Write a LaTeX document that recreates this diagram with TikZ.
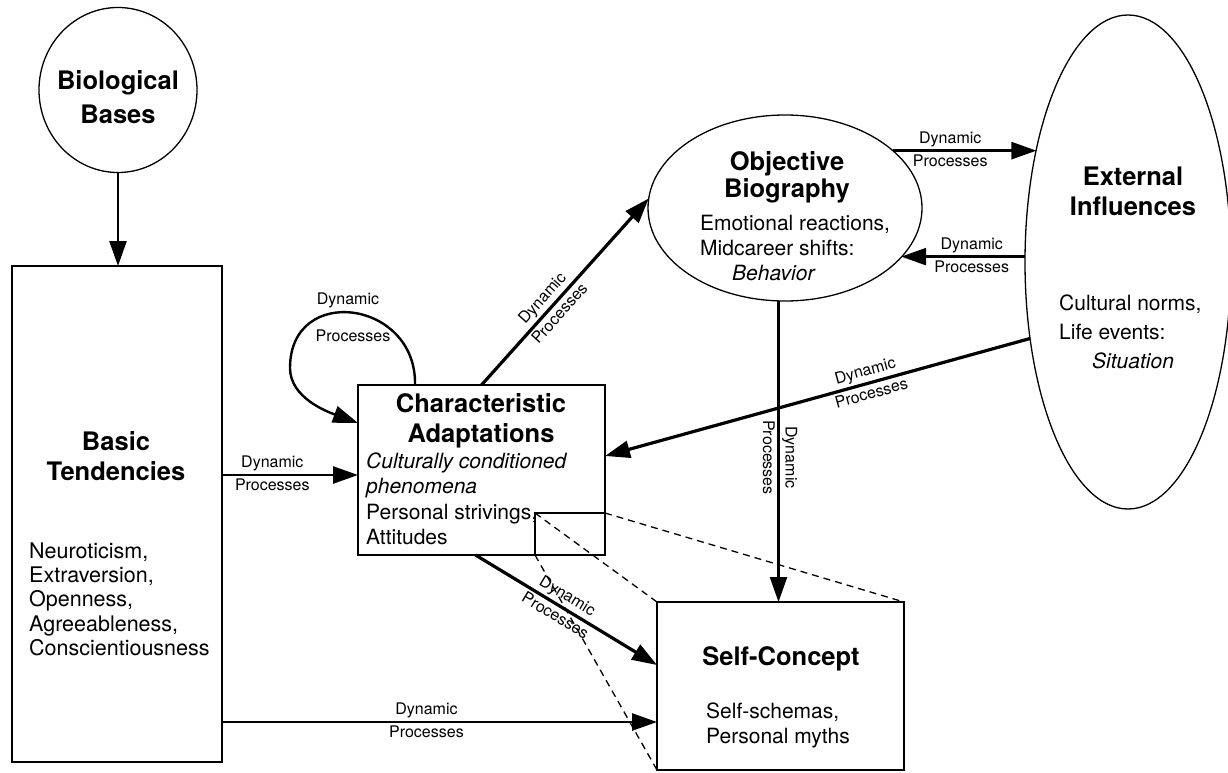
\documentclass[tikz,border=0pt]{standalone}
\usepackage{fontspec}
\setmainfont{TeX Gyre Heros}
\usetikzlibrary{arrows.meta,shapes.geometric,calc}
\newcommand\blk[2]{\begin{tabular}[t]{@{}#1@{}}#2\end{tabular}}
\begin{document}
\begin{tikzpicture}[x=1pt,y=-1pt,
  shapebox/.style={draw, line width=1.6pt, rectangle, inner sep=0pt, outer sep=0pt},
  oval/.style={draw, line width=1.3pt, ellipse, inner sep=0pt, outer sep=0pt},
  ttl/.style={font=\fontsize{25.5}{30}\selectfont\bfseries, inner sep=0pt, anchor=base},
  bdy/.style={font=\fontsize{21}{25}\selectfont, inner sep=0pt, anchor=base west},
  lbl/.style={font=\fontsize{16}{18}\selectfont, inner sep=2.5pt},
  conn/.style={line width=2.6pt, -{Triangle[length=25pt,width=17pt]}},
  thickconn/.style={conn, line width=3.2pt},
  zoomline/.style={line width=1.3pt, dash pattern=on 7pt off 5pt}
]
\fill[white] (0,0) rectangle (1228,773);
\useasboundingbox (0,0) rectangle (1228,773);

% shapes
\node[oval, minimum width=158pt, minimum height=165pt] (bio) at (118,90) {};
\node[shapebox, minimum width=210pt, minimum height=496pt] (basic) at (117,514) {};
\node[shapebox, minimum width=247pt, minimum height=170pt] (char) at (481.5,470) {};
\node[oval, minimum width=274pt, minimum height=186pt] (obj) at (785,208) {};
\node[oval, minimum width=206pt, minimum height=494pt] (ext) at (1128,262) {};
\node[shapebox, minimum width=247pt, minimum height=168pt] (self) at (780.5,686) {};

% texts
\node[ttl, font=\fontsize{25.5}{34}\selectfont\bfseries] (biot) at (118,90) {\blk{c}{Biological\\Bases}};
\node[ttl] (basict) at (116,450) {\blk{c}{Basic\\Tendencies}};
\node[bdy, font=\fontsize{21.5}{24.4}\selectfont] (basicb) at (29,558) {\blk{l}{Neuroticism,\\Extraversion,\\Openness,\\Agreeableness,\\Conscientiousness}};
\node[ttl] (chart) at (481,412) {\blk{c}{Characteristic\\Adaptations}};
\node[bdy, font=\fontsize{21}{25.5}\selectfont] (charb) at (366,468) {\blk{l}{\textit{Culturally conditioned}\\\textit{phenomena}\\Personal strivings,\\Attitudes}};
\node[ttl, font=\fontsize{25.5}{27}\selectfont\bfseries] (objt) at (787,170) {\blk{c}{Objective\\Biography}};
\node[bdy] (objb) at (700,230) {\blk{l}{Emotional reactions,\\Midcareer shifts:\\\hspace*{32pt}\textit{Behavior}}};
\node[ttl] (extt) at (1133,185) {\blk{c}{External\\Influences}};
\node[bdy, font=\fontsize{21}{29}\selectfont] (extb) at (1059,310) {\blk{l}{Cultural norms,\\Life events:\\\hspace*{33pt}\textit{Situation}}};
\node[ttl] (selft) at (781,665) {Self-Concept};
\node[bdy] (selfb) at (706,718) {\blk{l}{Self-schemas,\\Personal myths}};

% zoom rectangle and dashed lines
\coordinate (zTL) at ($(char.south east)+(-70,-42)$);
\draw[line width=1.3pt] (zTL) rectangle (char.south east);
\draw[zoomline] (zTL) -- (self.north west);
\draw[zoomline] (zTL -| char.east) -- (self.north east);
\draw[zoomline] (zTL |- char.south) -- (self.south west);

% connectors
\draw[conn] (bio.south) -- (bio.south |- basic.north);

\coordinate (c1) at ($(char.west)+(0,5)$);
\draw[conn] (c1 -| basic.east) -- node[lbl,above,pos=0.37] (l1a) {Dynamic} node[lbl,below,pos=0.37] (l1b) {Processes} (c1);

\coordinate (b2) at ($(basic.south east)+(0,-40)$);
\draw[conn] (b2) -- node[lbl,above,pos=0.47] (l2a) {Dynamic} node[lbl,below,pos=0.47] (l2b) {Processes} (b2 -| self.west);

\draw[thickconn] (char.north) -- node[lbl,sloped,above,pos=0.42] (l3a) {Dynamic} node[lbl,sloped,below,pos=0.42] (l3b) {Processes} (obj.176);

\draw[thickconn] ($(char.south)+(-6,0)$) -- node[lbl,sloped,above,pos=0.47] (l4a) {Dynamic} node[lbl,sloped,below,pos=0.47] (l4b) {Processes} ($(self.west)+(0,-21)$);

\draw[conn] (obj.28) -- node[lbl,above,pos=0.4] (l5a) {Dynamic} node[lbl,below,pos=0.4] (l5b) {Processes} (obj.28 -| ext.129);

\draw[conn] (ext.177) -- node[lbl,above,pos=0.43] (l6a) {Dynamic} node[lbl,below,pos=0.43] (l6b) {Processes} (ext.177 -| obj.337);

\draw[thickconn] (ext.218) -- node[lbl,sloped,above,pos=0.38] (l7a) {Dynamic} node[lbl,sloped,below,pos=0.38] (l7b) {Processes} ($(char.east)+(0,-14)$);

\draw[conn, line width=2.3pt] (obj.266) -- node[lbl,sloped,above,pos=0.52] (l8a) {Dynamic} node[lbl,sloped,below,pos=0.52] (l8b) {Processes} (obj.266 |- self.north);

% self loop
\coordinate (ls) at ($(char.north west)+(57,0)$);
\coordinate (lm) at ($(char.north west)+(-68,-17)$);
\coordinate (le) at ($(char.north west)+(0,38)$);
\draw[conn, line width=2.4pt] (ls) .. controls ($(ls)+(2,-85)$) and ($(lm)+(0,-85)$) .. (lm) .. controls ($(lm)+(0,30)$) and ($(le)+(-30,-11)$) .. (le);
\node[lbl] (l9a) at (348,300) {Dynamic};
\node[lbl] (l9b) at (353,336) {Processes};
\end{tikzpicture}
\end{document}
